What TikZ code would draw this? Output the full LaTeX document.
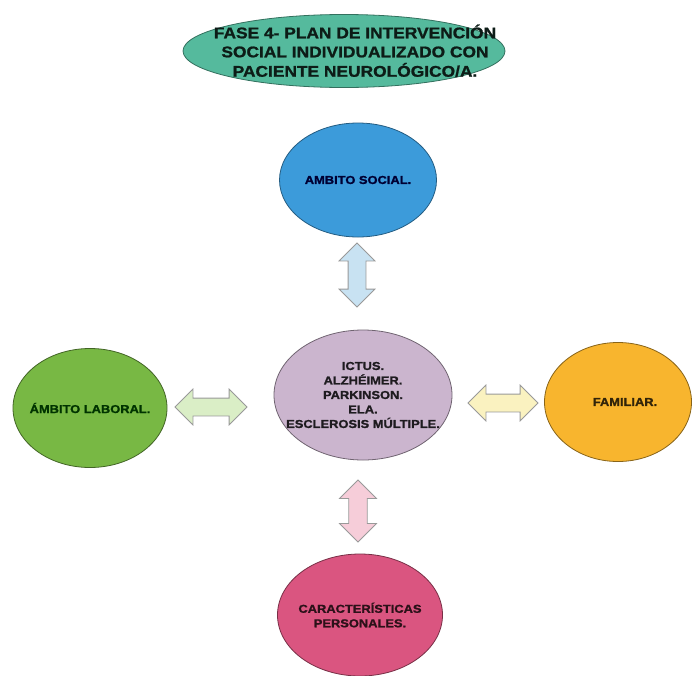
\documentclass[tikz,border=0pt]{standalone}
\usepackage{fontspec}
\newfontfamily\diafont{Liberation Sans}[FakeStretch=1.12, BoldFeatures={FakeBold=1.2}]
\usetikzlibrary{shapes.geometric}
\usetikzlibrary{shapes.arrows}

\definecolor{verdetitulo}{HTML}{55BA9D}
\definecolor{azulsocial}{HTML}{3C9BDA}
\definecolor{verdelaboral}{HTML}{78B844}
\definecolor{lilacentro}{HTML}{CBB5CE}
\definecolor{naranjafam}{HTML}{F8B52E}
\definecolor{rosapers}{HTML}{DA5580}
\definecolor{flechaazul}{HTML}{C8E2F2}
\definecolor{flechaverde}{HTML}{DAEEC6}
\definecolor{flechaamarilla}{HTML}{FAF2C0}
\definecolor{flecharosa}{HTML}{F6CDD9}

\begin{document}
\begin{tikzpicture}[x=1pt, y=-1pt,
    burbuja/.style={draw, ellipse, inner xsep=-90pt, inner ysep=-60pt, line width=0.8pt,
      align=center, font=\diafont\bfseries\fontsize{11.5}{14.5}\selectfont},
    flecha/.style={draw=gray!80, double arrow, inner xsep=0pt, inner ysep=8.5pt,
      line width=0.8pt, double arrow head extend=9pt}]
  \useasboundingbox[fill=white] (0,0) rectangle (693,675);

  % Nodos
  \node[burbuja, fill=verdetitulo, draw=verdetitulo!60!black, text=black!85!verdetitulo,
    minimum width=322pt, minimum height=73pt, align=none,
    font=\diafont\bfseries\fontsize{15.5}{19}\selectfont] (titulo) at (344,51)
    {\raisebox{-2.5pt}[\height][\depth]{\begin{tabular}{@{\hspace{22pt}}c@{}}FASE 4- PLAN DE INTERVENCIÓN\\
      SOCIAL INDIVIDUALIZADO CON\\PACIENTE NEUROLÓGICO/A.\end{tabular}}};
  \node[burbuja, fill=azulsocial, draw=azulsocial!60!black, text=black!80!blue,
    minimum width=157pt, minimum height=114pt] (social) at (358,180) {AMBITO SOCIAL.};
  \node[burbuja, fill=lilacentro, draw=lilacentro!55!black, text=black!85!lilacentro,
    minimum width=178pt, minimum height=130pt] (centro) at (363,395)
    {ICTUS.\\ALZHÉIMER.\\PARKINSON.\\ELA.\\ESCLEROSIS MÚLTIPLE.};
  \node[burbuja, fill=verdelaboral, draw=verdelaboral!55!black, text=black!80!green,
    minimum width=154pt, minimum height=119pt] (laboral) at (90,408) {ÁMBITO LABORAL.};
  \node[burbuja, fill=naranjafam, draw=naranjafam!55!black, text=black!80!naranjafam,
    minimum width=147pt, minimum height=119pt] (familiar) at (618,402)
    {\hspace*{14pt}FAMILIAR.};
  \node[burbuja, fill=rosapers, draw=rosapers!55!black, text=black!80!rosapers,
    minimum width=165pt, minimum height=122pt] (personal) at (360,615)
    {CARACTERÍSTICAS\\PERSONALES.};

  % Flechas
  \node[flecha, fill=flechaazul, rotate=90, minimum height=64pt, minimum width=35pt]
    (fsocial) at (357,275) {};
  \node[flecha, fill=flechaverde, minimum height=72pt, minimum width=35pt]
    (flaboral) at (211,407) {};
  \node[flecha, fill=flechaamarilla, minimum height=70pt, minimum width=33pt]
    (ffamiliar) at (503,403) {};
  \node[flecha, fill=flecharosa, rotate=90, minimum height=62pt, minimum width=37pt]
    (fpersonal) at (358,511) {};
\end{tikzpicture}
\end{document}
